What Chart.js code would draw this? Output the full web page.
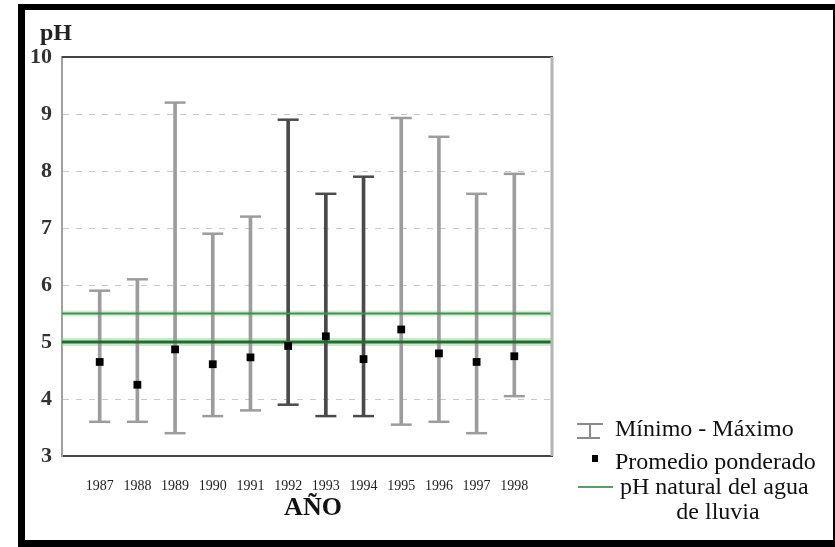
<!DOCTYPE html>
<html><head><meta charset="utf-8">
<script src="https://cdn.jsdelivr.net/npm/chart.js@4.4.1/dist/chart.umd.min.js"></script>
<style>html,body{margin:0;padding:0;background:#fff}#wrap{position:relative;width:835px;height:547px}</style>
</head><body><div id="wrap"><canvas id="c" width="835" height="547"></canvas></div>
<script>
// ---- data ----
const years   = [1987, 1988, 1989, 1990, 1991, 1992, 1993, 1994, 1995, 1996, 1997, 1998];
const phMin   = [3.60, 3.60, 3.40, 3.70, 3.80, 3.90, 3.70, 3.70, 3.55, 3.60, 3.40, 4.05];
const phMax   = [5.90, 6.10, 9.20, 6.90, 7.20, 8.90, 7.60, 7.90, 8.93, 8.60, 7.60, 7.95];
const phMean  = [4.65, 4.25, 4.87, 4.61, 4.73, 4.93, 5.10, 4.70, 5.22, 4.80, 4.65, 4.75];
const naturalPH = [5.0, 5.5];
const darkYears = [1992, 1993, 1994];
const yTickValues = [3, 4, 5, 6, 7, 8, 9, 10];
const xRange = [1986, 1999];
const yTitle = 'pH';
const xTitle = 'AÑO';
const legendLabels = ['Mínimo - Máximo', 'Promedio ponderado', 'pH natural del agua', 'de lluvia'];

// ---- styles ----
const LIGHT = '#9c9c9c', DARK = '#4a4a4a';
const colorFor = y => darkYears.includes(y) ? DARK : LIGHT;
const SERIF = '"Liberation Serif", "DejaVu Serif", serif';

const barData = years.map((y, i) => ({x: y, y: [phMin[i], phMax[i]]}));
const capData = years.flatMap((y, i) => [{x: y, y: phMin[i]}, {x: y, y: phMax[i]}]);
const capColors = years.flatMap(y => [colorFor(y), colorFor(y)]);
const meanData = years.map((y, i) => ({x: y, y: phMean[i]}));
const hLine = v => xRange.map(x => ({x, y: v}));

const framePlugin = {
  id: 'frame',
  beforeDraw(chart) {
    const ctx = chart.ctx;
    ctx.save();
    ctx.fillStyle = '#fff';
    ctx.fillRect(0, 0, chart.width, chart.height);
    ctx.fillStyle = '#000';
    ctx.fillRect(18, 4, 817, 6);     // top
    ctx.fillRect(18, 4, 7, 543);     // left
    ctx.fillRect(833, 4, 2, 543);    // right
    ctx.fillRect(18, 540, 817, 7);   // bottom
    ctx.restore();
  },
  afterDatasetsDraw(chart) {
    const {ctx, chartArea: a} = chart;
    ctx.save();
    ctx.strokeStyle = '#444'; ctx.lineWidth = 2;
    ctx.beginPath(); ctx.moveTo(a.left, a.top); ctx.lineTo(a.right + 1, a.top); ctx.stroke();
    ctx.strokeStyle = '#b4b4b4'; ctx.lineWidth = 3;
    ctx.beginPath(); ctx.moveTo(a.right, a.top); ctx.lineTo(a.right, a.bottom); ctx.stroke();
    ctx.restore();
  },
  afterDraw(chart) {
    const ctx = chart.ctx;
    const a = chart.chartArea;
    ctx.save();
    // axis titles
    ctx.fillStyle = '#222';
    ctx.font = 'bold 24px ' + SERIF;
    ctx.textBaseline = 'middle'; ctx.textAlign = 'left';
    ctx.fillText(yTitle, 40, 34);
    ctx.fillStyle = '#111';
    ctx.font = 'bold 26px ' + SERIF;
    ctx.textAlign = 'center';
    ctx.fillText(xTitle, (a.left + a.right) / 2 + 6, 508);
    // legend symbols
    ctx.strokeStyle = '#8a8a8a'; ctx.lineWidth = 2;
    ctx.beginPath();
    ctx.moveTo(577, 424); ctx.lineTo(603, 424);
    ctx.moveTo(590, 424); ctx.lineTo(590, 438);
    ctx.moveTo(577, 438); ctx.lineTo(600, 438);
    ctx.stroke();
    ctx.fillStyle = '#000';
    ctx.fillRect(592, 455, 6, 7);
    ctx.strokeStyle = '#5f9a68'; ctx.lineWidth = 2;
    ctx.beginPath(); ctx.moveTo(578, 487); ctx.lineTo(613, 487); ctx.stroke();
    // legend text
    ctx.fillStyle = '#111';
    ctx.font = '24px ' + SERIF;
    ctx.textAlign = 'left';
    ctx.fillText(legendLabels[0], 615, 430);
    ctx.fillText(legendLabels[1], 615, 463);
    ctx.fillText(legendLabels[2], 620, 488);
    ctx.textAlign = 'center';
    ctx.fillText(legendLabels[3], 718, 513);
    ctx.restore();
  }
};

new Chart(document.getElementById('c'), {
  type: 'bar',
  data: {
    datasets: [
      {type: 'line', data: meanData, showLine: false, pointStyle: 'rect', pointRadius: 5.5,
       pointBackgroundColor: '#000', pointBorderColor: '#000', pointBorderWidth: 0, order: 0},
      {type: 'line', data: hLine(naturalPH[0]), borderColor: '#1f6e30', borderWidth: 3, pointRadius: 0, order: 1},
      {type: 'line', data: hLine(naturalPH[1]), borderColor: '#3f9050', borderWidth: 2, pointRadius: 0, order: 1},
      {type: 'line', data: capData, showLine: false, pointStyle: 'line', pointRadius: 10.5,
       pointBorderColor: capColors, pointBorderWidth: 2.5, order: 2},
      {type: 'bar', data: barData, backgroundColor: years.map(colorFor), barThickness: 3,
       borderWidth: 0, grouped: false, order: 3},
      {type: 'line', data: hLine(naturalPH[0]), borderColor: 'rgba(150,215,150,0.5)', borderWidth: 8, pointRadius: 0, order: 4},
      {type: 'line', data: hLine(naturalPH[1]), borderColor: 'rgba(150,215,150,0.4)', borderWidth: 6, pointRadius: 0, order: 4}
    ]
  },
  options: {
    responsive: false, animation: false, devicePixelRatio: 1,
    layout: {padding: {left: 0, right: 283, top: 57, bottom: 0}},
    plugins: {legend: {display: false}, tooltip: {enabled: false}},
    scales: {
      x: {
        type: 'linear', min: xRange[0], max: xRange[1], offset: false,
        afterFit: s => { s.height = 91; },
        grid: {display: false, offset: false},
        border: {color: '#444', width: 2},
        ticks: {
          stepSize: 1, autoSkip: false, maxRotation: 0, padding: 14, color: '#222',
          font: {family: SERIF, size: 14},
          callback: v => years.includes(v) ? String(v) : ''
        }
      },
      y: {
        min: 3, max: 10, beginAtZero: false,
        afterFit: s => { s.width = 62; },
        afterBuildTicks: s => { s.ticks = yTickValues.map(v => ({value: v})); },
        grid: {drawTicks: false, lineWidth: 1,
               color: c => (c.tick && (c.tick.value === 3 || c.tick.value === 10)) ? 'rgba(0,0,0,0)' : '#c8c8c8'},
        border: {color: '#a0a0a0', width: 2, dash: [6, 7]},
        ticks: {padding: 10, color: '#333', font: {family: SERIF, size: 22, weight: 'bold'}}
      }
    }
  },
  plugins: [framePlugin]
});
</script></body></html>
